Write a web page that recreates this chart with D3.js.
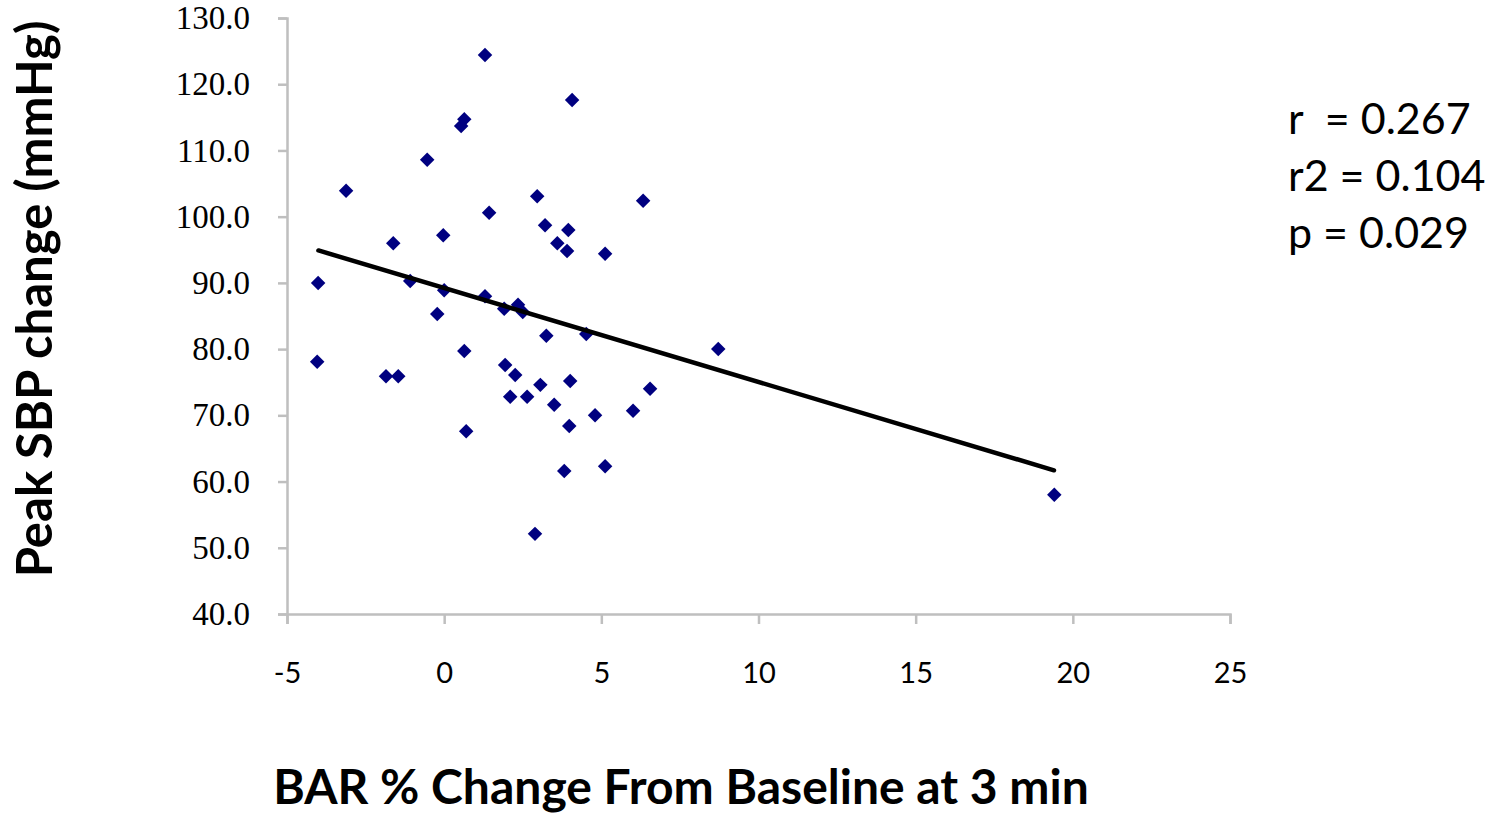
<!DOCTYPE html>
<html>
<head>
<meta charset="utf-8">
<script src="https://cdn.jsdelivr.net/npm/d3@7"></script>
<style>
    body { margin: 0; background: #fff; }
    #scatter { width: 1493px; height: 816px; }
</style>
</head>
<body>
<div id="scatter"></div>
<script>
// Values
const barChange = [1.30, 4.07, 0.64, 0.54, -0.54, -3.12, 2.96, 6.33, 1.43, 3.21,
    3.95, -0.03, -1.62, 3.60, 3.91, 5.12, -4.01, -1.08, 0.00, 1.30,
    2.35, 2.50, 1.91, -0.22, 4.52, 3.25, 0.64, 8.72, -4.04, 1.94,
    -1.85, -1.46, 2.26, 4.01, 3.06, 6.55, 2.10, 2.64, 3.50, 6.01,
    4.80, 3.98, 0.70, 5.12, 3.82, 19.41, 2.89];
const peakSBP = [124.4, 117.6, 114.7, 113.7, 108.6, 103.9, 103.1, 102.4, 100.6, 98.7,
    98.0, 97.2, 96.0, 96.0, 94.8, 94.4, 90.0, 90.3, 88.9, 88.0,
    86.7, 85.6, 86.1, 85.3, 82.3, 82.0, 79.7, 80.0, 78.1, 77.6,
    75.9, 75.9, 76.1, 75.2, 74.6, 74.0, 72.8, 72.8, 71.6, 70.7,
    70.0, 68.4, 67.6, 62.3, 61.6, 58.0, 52.1];

// Trend line end points
const trendX = [-4.0, 19.4];
const trendY = [94.9, 61.7];

const xTicks = [-5, 0, 5, 10, 15, 20, 25];
const yTicks = [40, 50, 60, 70, 80, 90, 100, 110, 120, 130];
const statLines = ["r  = 0.267", "r2 = 0.104", "p = 0.029"];

const width = 1493;
const height = 816;
const plot = { left: 287, right: 1230, top: 18, bottom: 614 };

function drawChart() {
    const svg = d3.select("#scatter")
        .append("svg")
        .attr("width", width)
        .attr("height", height);

    const xScale = d3.scaleLinear()
        .domain([-5, 25])
        .range([plot.left, plot.right]);

    const yScale = d3.scaleLinear()
        .domain([40, 130])
        .range([plot.bottom, plot.top]);

    //Axes
    const xAxis = d3.axisBottom(xScale)
        .tickValues(xTicks)
        .tickSize(10)
        .tickPadding(38)
        .tickFormat(d => String(d));

    const yAxis = d3.axisLeft(yScale)
        .tickValues(yTicks)
        .tickSize(9)
        .tickPadding(28)
        .tickFormat(d3.format(".1f"));

    const gx = svg.append("g")
        .attr("transform", `translate(0, ${plot.bottom})`)
        .call(xAxis);
    gx.selectAll("text")
        .attr("font-family", "Lato, 'Open Sans', sans-serif")
        .attr("font-size", 29)
        .attr("fill", "#000");

    const gy = svg.append("g")
        .attr("transform", `translate(${plot.left}, 0)`)
        .call(yAxis);
    gy.selectAll("text")
        .attr("font-family", "'Liberation Serif', 'DejaVu Serif', serif")
        .attr("font-size", 33)
        .attr("fill", "#000");

    svg.selectAll(".domain, .tick line")
        .attr("stroke", "#bfbfbf")
        .attr("stroke-width", 2.5);

    //Points
    const points = barChange.map((x, i) => ({ x: x, y: peakSBP[i] }));
    const diamond = d3.symbol().type(d3.symbolSquare).size(105);

    svg.selectAll(".point")
        .data(points)
        .enter()
        .append("path")
        .attr("class", "point")
        .attr("d", diamond)
        .attr("transform", d => `translate(${xScale(d.x)}, ${yScale(d.y)}) rotate(45)`)
        .attr("fill", "#000080");

    //Trend line
    svg.append("line")
        .attr("x1", xScale(trendX[0]))
        .attr("y1", yScale(trendY[0]))
        .attr("x2", xScale(trendX[1]))
        .attr("y2", yScale(trendY[1]))
        .attr("stroke", "#000")
        .attr("stroke-width", 4.5)
        .attr("stroke-linecap", "round");

    //Titles
    svg.append("text")
        .attr("transform", `translate(52, ${(plot.top + plot.bottom) / 2 - 17}) rotate(-90)`)
        .attr("text-anchor", "middle")
        .attr("font-family", "Lato, 'Open Sans', sans-serif")
        .attr("font-weight", "bold")
        .attr("font-size", 49)
        .text("Peak SBP change (mmHg)");

    svg.append("text")
        .attr("x", 681)
        .attr("y", 804)
        .attr("text-anchor", "middle")
        .attr("font-family", "Lato, 'Open Sans', sans-serif")
        .attr("font-weight", "bold")
        .attr("font-size", 48)
        .text("BAR % Change From Baseline at 3 min");

    //Statistics
    svg.selectAll(".stat")
        .data(statLines)
        .enter()
        .append("text")
        .attr("class", "stat")
        .attr("x", 1288)
        .attr("y", (d, i) => 134 + i * 57)
        .attr("font-family", "Lato, 'Open Sans', sans-serif")
        .attr("font-size", 43)
        .attr("xml:space", "preserve")
        .style("white-space", "pre")
        .text(d => d);
}

drawChart();
</script>
</body>
</html>
